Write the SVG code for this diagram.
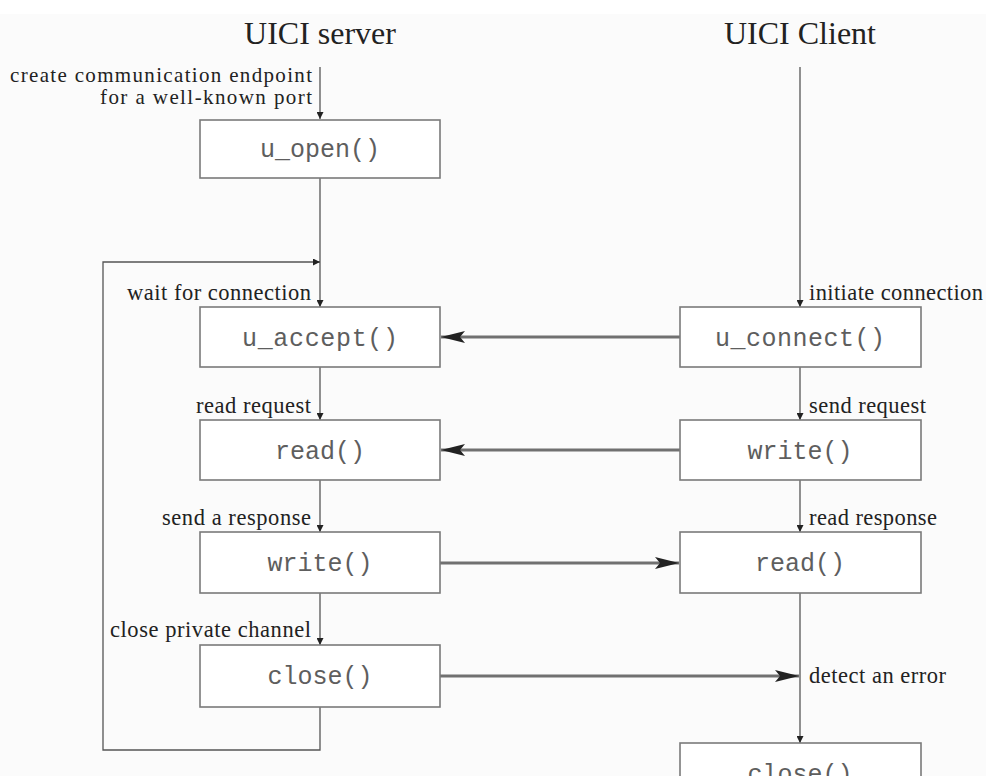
<svg xmlns="http://www.w3.org/2000/svg" width="986" height="776" viewBox="0 0 986 776">
<style>
.bg{fill:#fbfbfb}
.box{fill:#fff;stroke:#7a7a7a;stroke-width:1.6}
.code{font-family:"Liberation Mono",monospace;font-size:25px;fill:#5e5e5e;text-anchor:middle}
.title{font-family:"Liberation Serif",serif;font-size:32px;fill:#222;text-anchor:middle}
.lbl{font-family:"Liberation Serif",serif;font-size:22.5px;fill:#222}
.top{font-size:21px}
.r{text-anchor:end}
.thin{fill:none;stroke:#555;stroke-width:1.3}
.thick{fill:none;stroke:#707070;stroke-width:3}
</style>
<defs>
<marker id="sm" viewBox="0 0 10 10" refX="10" refY="5" markerWidth="7" markerHeight="7" markerUnits="userSpaceOnUse" orient="auto"><path d="M0,0 L10,5 L0,10 z" fill="#222"/></marker>
<marker id="big" viewBox="0 0 24 12" refX="24" refY="6" markerWidth="24" markerHeight="12" markerUnits="userSpaceOnUse" orient="auto"><path d="M0,0 L24,6 L0,12 L5,6 z" fill="#222"/></marker>
</defs>
<rect x="0" y="0" width="986" height="776" fill="#fff"/>
<rect class="bg" x="0" y="14" width="986" height="762"/>
<text class="title" x="320" y="44">UICI server</text>
<text class="title" x="800" y="44">UICI Client</text>
<g id="connectors">
<path class="thin" d="M320,67 V119" marker-end="url(#sm)"/>
<path class="thin" d="M320,178 V307" marker-end="url(#sm)"/>
<path class="thin" d="M320,707 V750 H103 V262 H320" marker-end="url(#sm)"/>
<path class="thin" d="M320,367 V420" marker-end="url(#sm)"/>
<path class="thin" d="M320,480 V532" marker-end="url(#sm)"/>
<path class="thin" d="M320,593 V645" marker-end="url(#sm)"/>
<path class="thin" d="M800,67 V307" marker-end="url(#sm)"/>
<path class="thin" d="M800,367 V420" marker-end="url(#sm)"/>
<path class="thin" d="M800,480 V532" marker-end="url(#sm)"/>
<path class="thin" d="M800,593 V743" marker-end="url(#sm)"/>
<path class="thick" d="M680,337 H441" marker-end="url(#big)"/>
<path class="thick" d="M680,450 H441" marker-end="url(#big)"/>
<path class="thick" d="M440,563 H679" marker-end="url(#big)"/>
<path class="thick" d="M440,676 H799" marker-end="url(#big)"/>
</g>
<g id="labels">
<text class="lbl top r" x="312" y="82" textLength="302" lengthAdjust="spacing">create communication endpoint</text>
<text class="lbl top r" x="312" y="104" textLength="212" lengthAdjust="spacing">for a well-known port</text>
<text class="lbl r" x="311" y="300" textLength="184" lengthAdjust="spacing">wait for connection</text>
<text class="lbl r" x="311" y="413" textLength="115" lengthAdjust="spacing">read request</text>
<text class="lbl r" x="311" y="525" textLength="149" lengthAdjust="spacing">send a response</text>
<text class="lbl r" x="311" y="637" textLength="201" lengthAdjust="spacing">close private channel</text>
<text class="lbl" x="809" y="300" textLength="174" lengthAdjust="spacing">initiate connection</text>
<text class="lbl" x="809" y="413" textLength="117" lengthAdjust="spacing">send request</text>
<text class="lbl" x="809" y="525" textLength="128" lengthAdjust="spacing">read response</text>
<text class="lbl" x="809" y="683" textLength="137" lengthAdjust="spacing">detect an error</text>
</g>
<g id="u_open"><rect class="box" x="200" y="120" width="240" height="58"/><text class="code" x="320" y="157">u_open()</text></g>
<g id="u_accept"><rect class="box" x="200" y="307" width="240" height="60"/><text class="code" x="320" y="346" textLength="156" lengthAdjust="spacing">u_accept()</text></g>
<g id="server_read"><rect class="box" x="200" y="420" width="240" height="60"/><text class="code" x="320" y="459">read()</text></g>
<g id="server_write"><rect class="box" x="200" y="532" width="240" height="61"/><text class="code" x="320" y="571">write()</text></g>
<g id="server_close"><rect class="box" x="200" y="645" width="240" height="62"/><text class="code" x="320" y="684">close()</text></g>
<g id="u_connect"><rect class="box" x="680" y="307" width="241" height="60"/><text class="code" x="800" y="346" textLength="170" lengthAdjust="spacing">u_connect()</text></g>
<g id="client_write"><rect class="box" x="680" y="420" width="241" height="60"/><text class="code" x="800" y="459">write()</text></g>
<g id="client_read"><rect class="box" x="680" y="532" width="241" height="61"/><text class="code" x="800" y="571">read()</text></g>
<g id="client_close"><rect class="box" x="680" y="743" width="241" height="60"/><text class="code" x="800" y="782">close()</text></g>
</svg>
